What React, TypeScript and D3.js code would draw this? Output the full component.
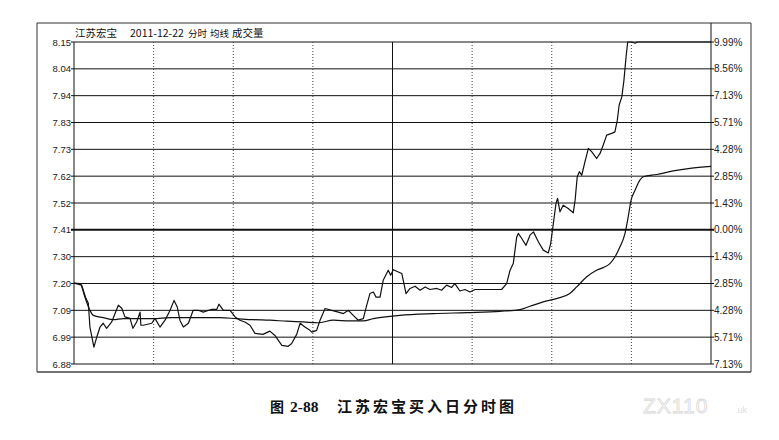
import * as d3 from 'd3';

const W = 779;
const H = 440;

// previous close and limit-up price
const preClose = 7.41;
const limitUp = 8.15;

const priceTickLabels = ['8.15', '8.04', '7.94', '7.83', '7.73', '7.62', '7.52', '7.41', '7.30', '7.20', '7.09', '6.99', '6.88'];
const pctTickLabels = ['9.99%', '8.56%', '7.13%', '5.71%', '4.28%', '2.85%', '1.43%', '0.00%', '1.43%', '2.85%', '4.28%', '5.71%', '7.13%'];

// minute of the trading day (0..240) and price
const priceMinutes = [0, 2.9, 4.5, 5.4, 6, 7.5, 8.6, 9.8, 11, 12.3, 14.2, 16.7, 18, 19.2, 21.1, 22.2, 23.6, 24.9, 25.2, 26.1, 29.3, 30.5, 32.4, 34.3, 36.2, 37.7, 38.9, 39.9, 41.2, 43.1, 44.9, 46.8, 48.7, 51.9, 53.8, 54.6, 56.3, 58.8, 60.7, 62.5, 64.4, 66.3, 68.2, 71.2, 73.8, 75.7, 78.3, 80.7, 82, 83.9, 85.2, 87, 88.9, 89.6, 91.4, 92.7, 94.6, 97.1, 99.6, 101.5, 103.4, 105.2, 107.1, 109, 110.3, 111.5, 112.8, 113.8, 115.3, 116.5, 118.4, 119.3, 120.3, 122.2, 123.5, 125.1, 126.6, 128.5, 130.4, 132.3, 134.1, 136.7, 138.5, 140.4, 142.3, 143.5, 145.4, 147.3, 149.2, 151.1, 155.5, 161.1, 163, 164.3, 165.5, 166.8, 167.4, 168.7, 170.3, 171.8, 173.1, 175, 176.8, 178.7, 179.6, 180.6, 181.6, 182.2, 183.1, 184.3, 186.2, 188.1, 188.8, 189.6, 190.4, 191.3, 192.5, 193.8, 195.1, 196.9, 198.2, 199.4, 200.7, 202.6, 203.8, 204.7, 205.4, 206.4, 207.2, 208, 208.6, 210.1, 211.4, 212.2, 240];
const priceValues = [7.2, 7.192, 7.14, 7.121, 7.027, 6.948, 6.988, 7.027, 7.042, 7.022, 7.047, 7.113, 7.101, 7.067, 7.061, 7.022, 7.047, 7.086, 7.034, 7.034, 7.042, 7.061, 7.027, 7.054, 7.093, 7.132, 7.106, 7.054, 7.027, 7.042, 7.093, 7.093, 7.086, 7.097, 7.097, 7.117, 7.093, 7.093, 7.067, 7.054, 7.047, 7.034, 7.002, 6.998, 7.011, 6.994, 6.955, 6.951, 6.962, 6.998, 7.042, 7.027, 7.014, 7.007, 7.014, 7.054, 7.1, 7.093, 7.086, 7.08, 7.093, 7.073, 7.054, 7.06, 7.113, 7.159, 7.165, 7.145, 7.145, 7.211, 7.251, 7.231, 7.253, 7.244, 7.238, 7.159, 7.179, 7.188, 7.172, 7.185, 7.175, 7.179, 7.172, 7.192, 7.183, 7.198, 7.169, 7.175, 7.165, 7.175, 7.175, 7.175, 7.198, 7.251, 7.277, 7.382, 7.396, 7.376, 7.349, 7.389, 7.402, 7.362, 7.33, 7.319, 7.356, 7.435, 7.514, 7.534, 7.481, 7.507, 7.494, 7.477, 7.527, 7.619, 7.639, 7.625, 7.678, 7.731, 7.717, 7.691, 7.711, 7.744, 7.783, 7.79, 7.796, 7.842, 7.902, 7.934, 8.0, 8.092, 8.15, 8.15, 8.145, 8.15, 8.15];

const avgMinutes = [0, 2.3, 4.1, 6, 7.3, 11, 14.8, 18.6, 23.6, 29.9, 36.2, 48.7, 55, 61.3, 67.6, 73.8, 80.1, 86.4, 92, 97.7, 104, 109, 112.8, 119.1, 122.8, 135.4, 148, 160.5, 168, 171.8, 176.8, 181.8, 186.8, 189.4, 193.1, 196.9, 199.4, 201.9, 203.8, 205.7, 207.6, 208.8, 209.9, 211.4, 213.2, 214.5, 219.5, 225.8, 232.1, 240];
const avgValues = [7.2, 7.198, 7.145, 7.093, 7.073, 7.064, 7.056, 7.06, 7.06, 7.06, 7.064, 7.064, 7.064, 7.06, 7.056, 7.054, 7.05, 7.047, 7.044, 7.054, 7.051, 7.051, 7.06, 7.069, 7.073, 7.08, 7.084, 7.089, 7.096, 7.109, 7.126, 7.139, 7.159, 7.185, 7.224, 7.251, 7.261, 7.277, 7.303, 7.343, 7.396, 7.461, 7.527, 7.566, 7.606, 7.619, 7.628, 7.642, 7.652, 7.66];

const gridMinutes = [30, 60, 90, 150, 180, 210];
const middayMinute = 120;

const titleParts = [
  { text: '江苏宏宝', x: 75, size: 10.5 },
  { text: '2011-12-22', x: 130, size: 10.5 },
  { text: '分时', x: 188, size: 9.5 },
  { text: '均线', x: 210, size: 9.5 },
  { text: '成交量', x: 232, size: 10.5 },
];

const App = () => {
  const plot = { left: 74, right: 711, top: 42, bottom: 364 };
  const frame = { left: 37, right: 751, top: 23, bottom: 372 };

  const step = (limitUp - preClose) / 7;
  const low = limitUp - 12 * step;
  const tickValues = priceTickLabels.map((_, i) => limitUp - i * step);

  const x = d3.scaleLinear().domain([0, 240]).range([plot.left, plot.right]);
  const y = d3.scaleLinear().domain([low, limitUp]).range([plot.bottom, plot.top]);

  const priceLine = d3.line<number>()
    .x((_, i) => x(priceMinutes[i]))
    .y(d => y(d));
  const avgLine = d3.line<number>()
    .x((_, i) => x(avgMinutes[i]))
    .y(d => y(d))
    .curve(d3.curveMonotoneX);

  const axisFont = '"Liberation Sans", Arial, sans-serif';
  const cjkFont = '"Noto Sans CJK SC", sans-serif';

  return (
    <svg width={W} height={H} style={{ position: 'absolute', left: 0, top: 0, background: '#fff' }}>
      <rect x={0} y={0} width={W} height={H} fill="#fff" />

      {/* outer frame */}
      <line x1={frame.left} x2={frame.right} y1={frame.top} y2={frame.top} stroke="#333" strokeWidth={1} />
      <line x1={frame.left} x2={frame.left} y1={frame.top} y2={frame.bottom} stroke="#333" strokeWidth={1} />
      <line x1={frame.right} x2={frame.right} y1={frame.top} y2={frame.bottom} stroke="#333" strokeWidth={1} />
      <line x1={frame.left} x2={frame.right} y1={frame.bottom} y2={frame.bottom} stroke="#444" strokeWidth={1.6} />

      {/* title */}
      <g fontFamily={cjkFont} fill="#111">
        {titleParts.map(p => (
          <text key={p.text} x={p.x} y={36.5} fontSize={p.size}>{p.text}</text>
        ))}
      </g>

      {/* horizontal grid */}
      {tickValues.map((v, i) => (
        <line
          key={`h${i}`}
          x1={plot.left - 3}
          x2={plot.right + 3}
          y1={y(v)}
          y2={y(v)}
          stroke="#111"
          strokeWidth={i === 7 ? 2 : 1}
        />
      ))}

      {/* vertical grid */}
      {gridMinutes.map(m => (
        <line key={`v${m}`} x1={x(m)} x2={x(m)} y1={plot.top} y2={plot.bottom} stroke="#444" strokeWidth={1} strokeDasharray="1,2" />
      ))}
      <line x1={x(middayMinute)} x2={x(middayMinute)} y1={plot.top} y2={plot.bottom} stroke="#111" strokeWidth={1} />

      {/* plot edges */}
      <line x1={plot.left} x2={plot.left} y1={plot.top} y2={plot.bottom} stroke="#111" strokeWidth={1} />
      <line x1={plot.right} x2={plot.right} y1={frame.top} y2={plot.bottom} stroke="#111" strokeWidth={1} />

      {/* left labels */}
      <g fontFamily={axisFont} fontSize={9.5} fill="#222" textAnchor="end">
        {tickValues.map((v, i) => (
          <text key={`l${i}`} x={plot.left - 3} y={y(v) + 3.5}>{priceTickLabels[i]}</text>
        ))}
      </g>

      {/* right labels */}
      <g fontFamily={axisFont} fontSize={10} fill="#222">
        {tickValues.map((v, i) => (
          <text key={`r${i}`} x={plot.right + 3} y={y(v) + 3.5}>{pctTickLabels[i]}</text>
        ))}
      </g>

      {/* average line */}
      <path d={avgLine(avgValues) ?? ''} fill="none" stroke="#111" strokeWidth={1.2} />
      {/* price line */}
      <path d={priceLine(priceValues) ?? ''} fill="none" stroke="#111" strokeWidth={1.2} strokeLinejoin="round" />

      {/* caption */}
      <text x={270} y={412} fontFamily={cjkFont} fontWeight="bold" fontSize={14} fill="#111">图</text>
      <text x={290} y={412} fontFamily='"Liberation Serif", serif' fontWeight="bold" fontSize={15.5} fill="#111">2-88</text>
      <text x={337} y={412} fontFamily={cjkFont} fontWeight="bold" fontSize={15} letterSpacing={3} fill="#111">江苏宏宝买入日分时图</text>

      {/* watermark */}
      <text x={643} y={413} fontFamily={axisFont} fontSize={21} letterSpacing={1} fill="#fff" stroke="#d8d8d8" strokeWidth={0.8}>ZX110</text>
      <text x={735} y={413} fontFamily={axisFont} fontSize={9} fill="#ddd">.uk</text>
    </svg>
  );
};

export default App;
